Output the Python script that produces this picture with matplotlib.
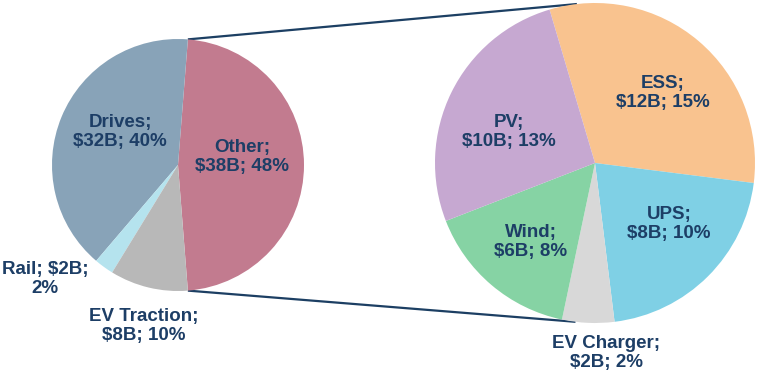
import matplotlib
matplotlib.use("Agg")
import matplotlib.pyplot as plt
import numpy as np

# ---- data ----
main_labels = ["Other", "Drives", "Rail", "EV Traction"]
main_values = [38, 32, 2, 8]
main_pct = ["48%", "40%", "2%", "10%"]
main_colors = ["#c27b8f", "#88a3b8", "#b5e3ee", "#b8b8b8"]

sub_labels = ["ESS", "UPS", "EV Charger", "Wind", "PV"]
sub_values = [12, 8, 2, 6, 10]
sub_pct = ["15%", "10%", "2%", "8%", "13%"]
sub_colors = ["#f9c38f", "#7fd0e5", "#d8d8d8", "#86d3a4", "#c6a8d1"]

TXT = "#1d3e66"
LINE = "#1c3f63"

W, H = 760, 379
fig = plt.figure(figsize=(W / 100, H / 100), dpi=100)
ax = fig.add_axes([0, 0, 1, 1])
ax.set_xlim(0, W)
ax.set_ylim(0, H)
ax.set_aspect("equal")
ax.axis("off")

# layout (pixel coords, y measured from top)
lc, lr = (178, 165), 126
rc, rr = (595, 163), 160
L_center = (lc[0], H - lc[1])
R_center = (rc[0], H - rc[1])

main_total = sum(main_values)
other_span = 360 * main_values[0] / main_total
l_start = -other_span / 2
ax.pie(main_values, colors=main_colors, startangle=l_start, counterclock=True,
       center=L_center, radius=lr, frame=True,
       wedgeprops=dict(linewidth=0))

ax.pie(sub_values, colors=sub_colors, startangle=106.5, counterclock=False,
       center=R_center, radius=rr, frame=True,
       wedgeprops=dict(linewidth=0))
ax.set_xlim(0, W)
ax.set_ylim(0, H)
ax.axis("off")

# connector lines
a1 = np.deg2rad(other_span / 2)
a2 = np.deg2rad(-other_span / 2)
p_top_l = (L_center[0] + lr * np.cos(a1), L_center[1] + lr * np.sin(a1))
p_bot_l = (L_center[0] + lr * np.cos(a2), L_center[1] + lr * np.sin(a2))
b1 = np.deg2rad(96.5)
b2 = np.deg2rad(-97.0)
p_top_r = (R_center[0] + rr * np.cos(b1), R_center[1] + rr * np.sin(b1))
p_bot_r = (R_center[0] + rr * np.cos(b2), R_center[1] + rr * np.sin(b2))
ax.plot([p_top_l[0], p_top_r[0]], [p_top_l[1], p_top_r[1]], color=LINE, lw=1.6,
        solid_capstyle="butt", zorder=0.5)
ax.plot([p_bot_l[0], p_bot_r[0]], [p_bot_l[1], p_bot_r[1]], color=LINE, lw=1.6,
        solid_capstyle="butt", zorder=0.5)

fs = 13.5
font = dict(fontsize=fs, fontweight="bold", color=TXT, family=["Liberation Sans", "DejaVu Sans"],
            ha="center", va="center", linespacing=1.12)

# label text positions (pixel coords from top)
main_pos = {"Other": (242, 157), "Drives": (120, 132), "Rail": (45, 279), "EV Traction": (144, 326)}
sub_pos = {"ESS": (663, 93), "UPS": (669, 224), "EV Charger": (606, 353), "Wind": (531, 242), "PV": (509, 132)}

for lab, v, p in zip(main_labels, main_values, main_pct):
    x, y = main_pos[lab]
    if lab == "Rail":
        s = f"{lab}; ${v}B;\n{p}"
    else:
        s = f"{lab};\n${v}B; {p}"
    ax.text(x, H - y, s, **font)

for lab, v, p in zip(sub_labels, sub_values, sub_pct):
    x, y = sub_pos[lab]
    s = f"{lab};\n${v}B; {p}"
    ax.text(x, H - y, s, **font)

fig.savefig("out.png", dpi=100)
